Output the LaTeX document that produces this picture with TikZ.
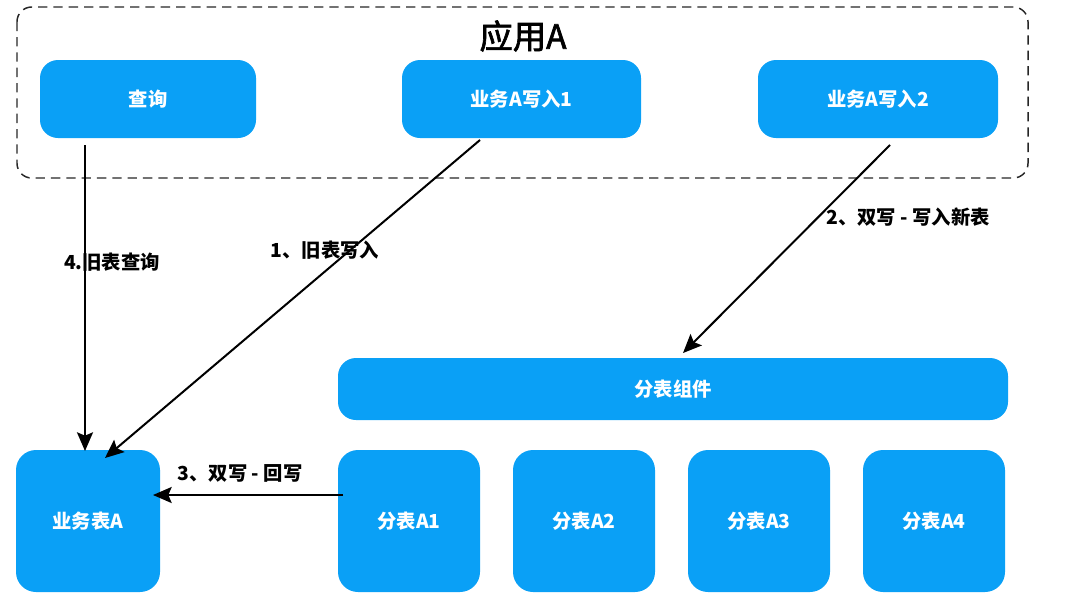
\documentclass[tikz,border=0pt]{standalone}
\usepackage{fontspec}
\setmainfont{Noto Sans CJK SC}
\newfontfamily\titlefont[FakeBold=2]{Noto Sans CJK SC}
\usetikzlibrary{arrows.meta}
\definecolor{boxblue}{RGB}{10,160,246}
\tikzset{
  bluebox/.style={fill=boxblue, draw=none, rounded corners=13.5pt, text=white, font=\bfseries\fontsize{14.5}{17}\selectfont, inner sep=0pt, minimum height=58.5pt},
  tablebox/.style={bluebox, rounded corners=15pt, minimum width=106.5pt, minimum height=106.5pt},
  conn/.style={line width=1.5pt, -{Stealth[length=14pt,width=12pt,inset=2.5pt]}},
  lbl/.style={font=\bfseries\fontsize{14.5}{17}\selectfont, text=black, inner sep=0pt},
  container/.style={draw=black!85, line width=1.1pt, dash pattern=on 7pt off 4.5pt, rounded corners=11pt}
}
\begin{document}
\begin{tikzpicture}[x=0.75pt,y=-0.75pt]
\useasboundingbox (0,0) rectangle (1066,597);
\draw[container] (17,7) rectangle (1028,178);
\node[font=\titlefont\fontsize{25}{28}\selectfont] (title) at (523,36) {应用A};
\node[bluebox, minimum width=162pt] (q) at (148,99) {查询};
\node[bluebox, minimum width=179.25pt] (w1) at (521.5,99) {业务A写入1};
\node[bluebox, minimum width=180pt] (w2) at (878,99) {业务A写入2};
\node[bluebox, minimum width=502.5pt, minimum height=46.5pt] (comp) at (673,389) {分表组件};
\node[tablebox, minimum width=108pt] (ta) at (88,521) {业务表A};
\node[tablebox] (a1) at (409,521) {分表A1};
\node[tablebox] (a2) at (584,521) {分表A2};
\node[tablebox] (a3) at (759,521) {分表A3};
\node[tablebox] (a4) at (934,521) {分表A4};
\coordinate (s4) at (85,145);
\coordinate (e4) at (85,451);
\coordinate (s1) at (480,140);
\coordinate (e1) at (105,458);
\coordinate (s2) at (890,145);
\coordinate (e2) at (683,353);
\coordinate (s3) at (343,495);
\coordinate (e3) at (153,495);
\draw[conn] (s4) -- (e4);
\draw[conn] (s1) -- (e1);
\draw[conn] (s2) -- (e2);
\draw[conn] (s3) -- (e3);
\node[lbl] (l4) at (112,262) {4.旧表查询};
\node[lbl] (l1) at (325,250) {1、旧表写入};
\node[lbl] (l2) at (908,217) {2、双写 - 写入新表};
\node[lbl] (l3) at (240,473) {3、双写 - 回写};
\end{tikzpicture}
\end{document}
